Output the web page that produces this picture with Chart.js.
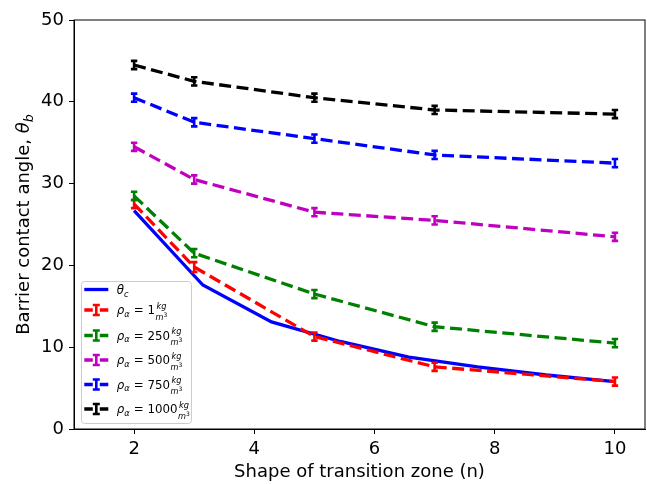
<!DOCTYPE html>
<html>
<head>
<meta charset="utf-8">
<script src="https://cdn.jsdelivr.net/npm/chart.js@4.4.1/dist/chart.umd.min.js"></script>
<style>
  body { margin: 0; background: #fff; }
  canvas { display: block; }
</style>
</head>
<body>
<canvas id="chart" width="647" height="484"></canvas>
<script>
// shape of transition zone (n) used for the measured series
const shapes = [2, 3, 5, 7, 10];

// theta_c was evaluated on a finer grid of n
const thetaCShapes = [2, 3.143, 4.286, 5.429, 6.571, 7.714, 8.857, 10];
const thetaC = [26.7, 17.6, 13.1, 10.7, 8.8, 7.6, 6.6, 5.8];

// barrier contact angle for each density
const rho1 = [27.5, 19.8, 11.3, 7.6, 5.8];
const rho1Err = [0.5, 0.6, 0.5, 0.5, 0.5];
const rho250 = [28.5, 21.5, 16.5, 12.5, 10.5];
const rho250Err = [0.5, 0.5, 0.5, 0.5, 0.5];
const rho500 = [34.5, 30.5, 26.5, 25.5, 23.5];
const rho500Err = [0.5, 0.5, 0.5, 0.5, 0.5];
const rho750 = [40.5, 37.5, 35.5, 33.5, 32.5];
const rho750Err = [0.5, 0.5, 0.5, 0.5, 0.5];
const rho1000 = [44.5, 42.5, 40.5, 39.0, 38.5];
const rho1000Err = [0.5, 0.5, 0.5, 0.5, 0.5];

const densities = ['1', '250', '500', '750', '1000'];
const xTicks = [2, 4, 6, 8, 10];
const yTicks = [0, 10, 20, 30, 40, 50];

const FAMILY = '"DejaVu Sans", sans-serif';
const DASH = [12, 5.5];

function points(xs, ys) {
    return xs.map((x, i) => ({ x: x, y: ys[i] }));
}

function errSeries(values, errs, color, order) {
    return {
        data: points(shapes, values),
        errors: errs,
        borderColor: color,
        borderWidth: 3.3,
        borderDash: DASH,
        pointRadius: 0,
        tension: 0,
        fill: false,
        order: order
    };
}

// error bars, drawn right after their own line so the layering matches
const errorBars = {
    id: 'errorBars',
    afterDatasetDraw(chart, args) {
        const ds = chart.data.datasets[args.index];
        if (!ds.errors) return;
        const ctx = chart.ctx;
        const yScale = chart.scales.y;
        ctx.save();
        ctx.strokeStyle = ds.borderColor;
        ctx.lineWidth = 2.6;
        ctx.setLineDash([]);
        args.meta.data.forEach((pt, i) => {
            const v = ds.data[i].y;
            const top = yScale.getPixelForValue(v + ds.errors[i]);
            const bot = yScale.getPixelForValue(v - ds.errors[i]);
            ctx.beginPath();
            ctx.moveTo(pt.x, top);
            ctx.lineTo(pt.x, bot);
            ctx.moveTo(pt.x - 3.2, top);
            ctx.lineTo(pt.x + 3.2, top);
            ctx.moveTo(pt.x - 3.2, bot);
            ctx.lineTo(pt.x + 3.2, bot);
            ctx.stroke();
        });
        ctx.restore();
    }
};

function setFont(ctx, style, size) {
    ctx.font = (style ? style + ' ' : '') + size + 'px ' + FAMILY;
}

// frame, axis titles and the legend with its math labels
const decorations = {
    id: 'decorations',
    afterDraw(chart) {
        const ctx = chart.ctx;
        const a = chart.chartArea;
        ctx.save();

        // top and right spines
        ctx.strokeStyle = '#000';
        ctx.lineWidth = 1;
        ctx.strokeRect(a.left, a.top, a.right - a.left, a.bottom - a.top);

        // x title
        ctx.fillStyle = '#000';
        setFont(ctx, '', 18);
        ctx.textAlign = 'center';
        ctx.textBaseline = 'alphabetic';
        ctx.fillText('Shape of transition zone (n)', (a.left + a.right) / 2, 477);

        // y title with theta_b
        ctx.save();
        ctx.translate(29, (a.top + a.bottom) / 2);
        ctx.rotate(-Math.PI / 2);
        ctx.textAlign = 'left';
        const main = 'Barrier contact angle, ';
        setFont(ctx, '', 18);
        const w1 = ctx.measureText(main).width;
        setFont(ctx, 'italic', 18);
        const w2 = ctx.measureText('θ').width;
        setFont(ctx, 'italic', 12.6);
        const w3 = ctx.measureText('b').width;
        let x = -(w1 + w2 + w3) / 2;
        setFont(ctx, '', 18);
        ctx.fillText(main, x, 0);
        x += w1;
        setFont(ctx, 'italic', 18);
        ctx.fillText('θ', x, 0);
        x += w2;
        setFont(ctx, 'italic', 12.6);
        ctx.fillText('b', x, 3.5);
        ctx.restore();

        // legend box
        const bx = a.left + 7, bw = 110, bh = 142;
        const by = a.bottom - 6 - bh;
        ctx.beginPath();
        ctx.roundRect(bx + 0.5, by + 0.5, bw, bh, 3);
        ctx.fillStyle = 'rgba(255,255,255,0.8)';
        ctx.fill();
        ctx.strokeStyle = '#cccccc';
        ctx.lineWidth = 1;
        ctx.stroke();

        const rows = [8.5, 29, 54.5, 79, 103.5, 128];
        const hx = bx + 3.3;
        const tx = bx + 35.7;
        const fs = 11.8;     // legend font size
        const ss = 8.2;      // sub/fraction size
        ctx.textAlign = 'left';
        ctx.textBaseline = 'alphabetic';

        // theta_c row
        let ry = by + rows[0];
        const c0 = chart.data.datasets[0].borderColor;
        ctx.strokeStyle = c0;
        ctx.lineWidth = 3.3;
        ctx.beginPath();
        ctx.moveTo(hx, ry);
        ctx.lineTo(hx + 24, ry);
        ctx.stroke();
        ctx.fillStyle = '#000';
        setFont(ctx, 'italic', fs);
        ctx.fillText('θ', tx, ry + 4.5);
        let tw = ctx.measureText('θ').width;
        setFont(ctx, 'italic', ss);
        ctx.fillText('c', tx + tw, ry + 7.3);

        // density rows
        densities.forEach((d, k) => {
            const ds = chart.data.datasets[k + 1];
            ry = by + rows[k + 1];
            ctx.strokeStyle = ds.borderColor;
            ctx.lineWidth = 3.3;
            ctx.beginPath();
            ctx.moveTo(hx, ry);
            ctx.lineTo(hx + 8.5, ry);
            ctx.moveTo(hx + 15.5, ry);
            ctx.lineTo(hx + 24, ry);
            ctx.stroke();
            ctx.lineWidth = 2.6;
            const cx = hx + 12;
            ctx.beginPath();
            ctx.moveTo(cx, ry - 5);
            ctx.lineTo(cx, ry + 5);
            ctx.moveTo(cx - 3.5, ry - 5);
            ctx.lineTo(cx + 3.5, ry - 5);
            ctx.moveTo(cx - 3.5, ry + 5);
            ctx.lineTo(cx + 3.5, ry + 5);
            ctx.stroke();

            ctx.fillStyle = '#000';
            const base = ry + 4;
            let x = tx;
            setFont(ctx, 'italic', fs);
            ctx.fillText('ρ', x, base);
            x += ctx.measureText('ρ').width;
            setFont(ctx, 'italic', ss);
            ctx.fillText('α', x, base + 2.5);
            x += ctx.measureText('α').width + 0.5;
            setFont(ctx, '', fs);
            const eq = ' = ' + d;
            ctx.fillText(eq, x, base);
            x += ctx.measureText(eq).width + 0.5;
            // kg / m^3 fraction
            setFont(ctx, 'italic', ss);
            const kgW = ctx.measureText('kg').width;
            const mW = ctx.measureText('m').width;
            setFont(ctx, '', 6);
            const sW = ctx.measureText('3').width;
            const fw = Math.max(kgW, mW + sW);
            setFont(ctx, 'italic', ss);
            ctx.fillText('kg', x + (fw - kgW) / 2, ry - 1.5);
            const mx = x + (fw - mW - sW) / 2;
            ctx.fillText('m', mx, ry + 9.5);
            setFont(ctx, '', 6);
            ctx.fillText('3', mx + mW, ry + 6.5);
        });
        ctx.restore();
    }
};

const tickFont = { family: FAMILY, size: 18 };

new Chart(document.getElementById('chart'), {
    type: 'line',
    data: {
        datasets: [
            {
                data: points(thetaCShapes, thetaC),
                borderColor: '#0000ff',
                borderWidth: 3.3,
                pointRadius: 0,
                tension: 0,
                fill: false,
                order: 6
            },
            errSeries(rho1, rho1Err, '#ff0000', 5),
            errSeries(rho250, rho250Err, '#008000', 4),
            errSeries(rho500, rho500Err, '#bf00bf', 3),
            errSeries(rho750, rho750Err, '#0000ff', 2),
            errSeries(rho1000, rho1000Err, '#000000', 1)
        ]
    },
    options: {
        responsive: false,
        devicePixelRatio: 1,
        animation: false,
        layout: { padding: { top: 20, right: 2, left: 0, bottom: 0 } },
        plugins: {
            legend: { display: false },
            tooltip: { enabled: false }
        },
        scales: {
            x: {
                type: 'linear',
                min: 1,
                max: 10.5,
                afterBuildTicks: s => { s.ticks = xTicks.map(v => ({ value: v })); },
                afterFit: s => { s.height = 55; },
                grid: { drawOnChartArea: false, tickLength: 5, color: '#000', lineWidth: 1 },
                border: { color: '#000', width: 1 },
                ticks: { color: '#000', font: tickFont, padding: 5, maxRotation: 0, autoSkip: false }
            },
            y: {
                min: 0,
                max: 50,
                afterBuildTicks: s => { s.ticks = yTicks.map(v => ({ value: v })); },
                afterFit: s => { s.width = 74; },
                grid: { drawOnChartArea: false, tickLength: 5, color: '#000', lineWidth: 1 },
                border: { color: '#000', width: 1 },
                ticks: { color: '#000', font: tickFont, padding: 5 }
            }
        }
    },
    plugins: [errorBars, decorations]
});
</script>
</body>
</html>
